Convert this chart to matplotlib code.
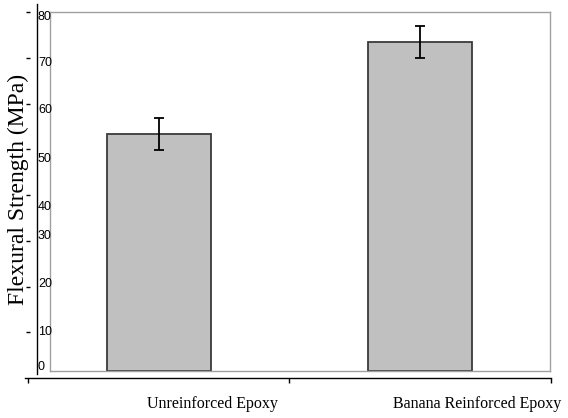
import matplotlib
matplotlib.use('Agg')
import matplotlib.pyplot as plt

# data
categories = ['Unreinforced Epoxy', 'Banana Reinforced Epoxy']
strength = [52.8, 73.3]
strength_err = [3.6, 3.6]

# the y labels in the source sit at uneven heights (outer axis units)
tick_values = [0, 10, 20, 30, 40, 50, 60, 70, 80]
tick_label_pos = [2.8, 10.3, 20.8, 31.3, 37.8, 48.3, 58.8, 69.1, 79.3]

W, H = 568, 418
fig = plt.figure(figsize=(W / 100, H / 100), dpi=100)


def rect(x0, y0, x1, y1):
    """Pixel box (top-left origin) -> figure fraction rect."""
    return [x0 / W, 1 - y1 / H, (x1 - x0) / W, (y1 - y0) / H]


# inner plot frame with the bars
ax = fig.add_axes(rect(50, 12, 550, 371))
x = list(range(len(categories)))
ax.bar(x, strength, width=0.4, color='#c0c0c0', edgecolor='#3a3a3a',
       linewidth=1.3, zorder=2)
ax.errorbar(x, strength, yerr=strength_err, fmt='none', ecolor='black',
            elinewidth=1.3, capsize=3.5, capthick=1.3, zorder=3)
ax.set_xlim(-0.418, 1.498)
ax.set_ylim(0, 80)
ax.set_xticks([])
ax.set_yticks([])
for s in ax.spines.values():
    s.set_color('#a0a0a0')
    s.set_linewidth(1.0)

# outer y axis (scale: 0 at y=378px, 80 at y=12px)
px_per_unit = (378 - 12) / 80
ay = fig.add_axes(rect(36.5, 4, 36.6, 374))
ay.patch.set_visible(False)
ay.set_ylim((378 - 374) / px_per_unit, (378 - 4) / px_per_unit)
ay.set_xticks([])
for k in ['top', 'right', 'bottom']:
    ay.spines[k].set_visible(False)
ay.spines['left'].set_linewidth(1.0)
ay.set_yticks(tick_label_pos)
ay.set_yticklabels([str(v) for v in tick_values], fontsize=9,
                   family='Liberation Sans')
ay.tick_params(axis='y', length=0, pad=-1)
for lbl in ay.get_yticklabels():
    lbl.set_horizontalalignment('left')

# the little dashes left of the axis line
ad = fig.add_axes(rect(36.5, 4, 36.6, 374))
ad.patch.set_visible(False)
ad.set_ylim(ay.get_ylim())
ad.set_xticks([])
for s in ad.spines.values():
    s.set_visible(False)
ad.spines['left'].set_position(('outward', 5.0))
ad.set_yticks(tick_values[1:])
ad.set_yticklabels([])
ad.tick_params(axis='y', length=3, width=1.0, direction='out')

# outer x axis
ax2 = fig.add_axes(rect(25, 377, 550.5, 378))
ax2.patch.set_visible(False)
ax2.set_xlim(-0.513, 1.5)
ax2.set_yticks([])
for k in ['top', 'right', 'left']:
    ax2.spines[k].set_visible(False)
ax2.spines['bottom'].set_linewidth(1.0)
ax2.set_xticks([-0.5, 0.5, 1.5])
ax2.set_xticklabels([])
ax2.tick_params(axis='x', length=3.6, width=1.0, direction='out')
ax2.set_xticks([0.205, 1.22], minor=True)
ax2.set_xticklabels(categories, minor=True, fontsize=11.5,
                    family='Liberation Serif')
ax2.tick_params(axis='x', which='minor', length=0, pad=13)

fig.text(18 / W, 1 - 189 / H, 'Flexural Strength (MPa)', rotation=90,
         ha='center', va='center', fontsize=17, family='Liberation Serif')

fig.savefig('out.png', dpi=100)
